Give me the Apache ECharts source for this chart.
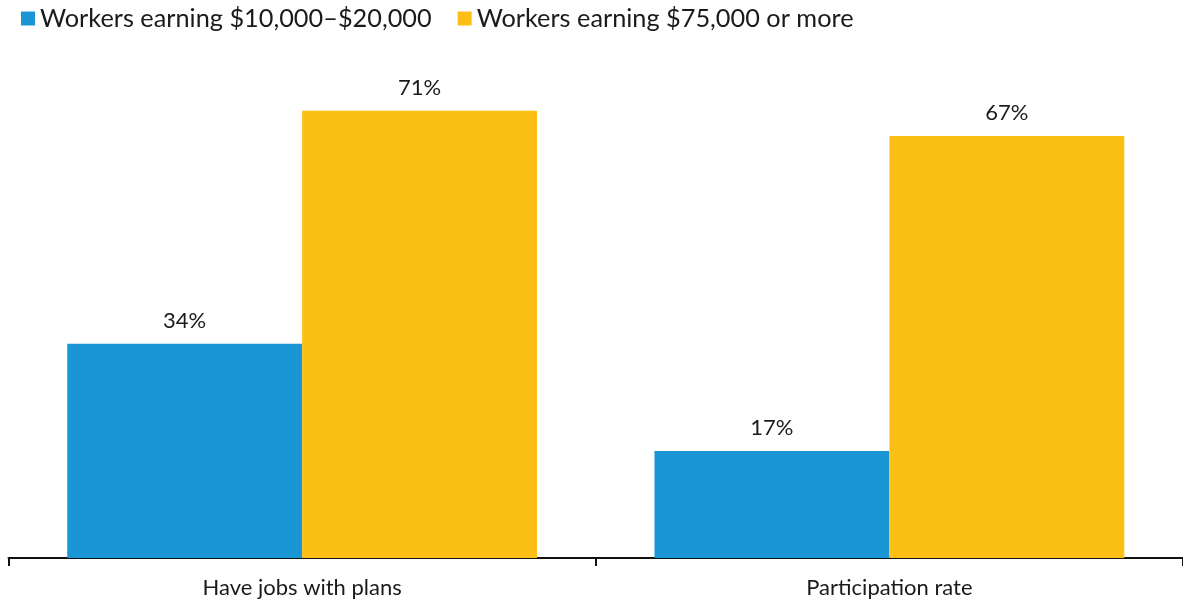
<!DOCTYPE html>
<html>
<head>
<meta charset="utf-8">
<script src="https://cdn.jsdelivr.net/npm/echarts@6/dist/echarts.min.js"></script>
<style>
  html, body { margin: 0; padding: 0; background: #fff; }
  #chart { width: 1183px; height: 603px; }
</style>
</head>
<body>
<div id="chart"></div>
<script>
// Retirement plan access and participation by earnings group
const categories = ['Have jobs with plans', 'Participation rate'];
const seriesNames = ['Workers earning $10,000\u2013$20,000', 'Workers earning $75,000 or more'];
const lowEarners = [34, 17];
const highEarners = [71, 67];
const colors = ['#1a96d4', '#fcc015'];

const chart = echarts.init(document.getElementById('chart'));
const labelStyle = {
  show: true,
  position: 'top',
  distance: 12,
  formatter: p => p.value + '%',
  fontFamily: 'Lato',
  fontSize: 22,
  color: '#1a1a1a'
};
chart.setOption({
  animation: false,
  textStyle: { fontFamily: 'Lato' },
  legend: {
    left: 16,
    top: 1,
    itemWidth: 14,
    itemHeight: 14,
    itemGap: 26,
    icon: 'rect',
    textStyle: { fontFamily: 'Lato', fontSize: 25.3, color: '#1a1a1a' },
    data: seriesNames
  },
  grid: { left: 8.5, right: -3, top: 54, bottom: 45, containLabel: false },
  xAxis: {
    type: 'category',
    data: categories,
    axisLine: { lineStyle: { color: '#111', width: 2 } },
    axisTick: { show: true, length: 8, lineStyle: { color: '#111', width: 2 } },
    axisLabel: { fontFamily: 'Lato', fontSize: 22, color: '#1a1a1a', margin: 19 }
  },
  yAxis: {
    type: 'value',
    min: 0,
    max: 80,
    show: false,
    splitLine: { show: false }
  },
  series: [
    {
      name: seriesNames[0],
      type: 'bar',
      data: lowEarners,
      barGap: '0%',
      barCategoryGap: '20%',
      itemStyle: { color: colors[0] },
      label: labelStyle
    },
    {
      name: seriesNames[1],
      type: 'bar',
      data: highEarners,
      itemStyle: { color: colors[1] },
      label: labelStyle
    }
  ]
});
</script>
</body>
</html>
